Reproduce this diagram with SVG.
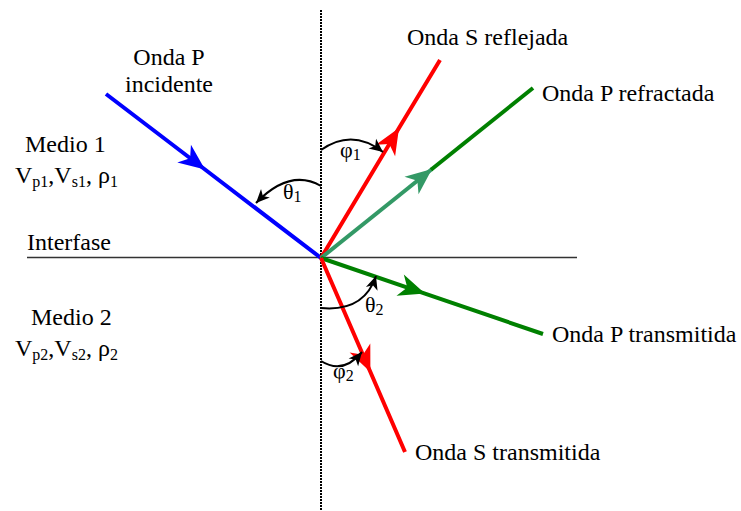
<svg xmlns="http://www.w3.org/2000/svg" width="741" height="511" viewBox="0 0 741 511">
<style>
.t{font-family:'Liberation Serif','Times New Roman',Times,serif;font-size:24px;fill:#000}
.sub{font-size:16px}
.ray{fill:none;stroke-width:4;stroke-linecap:butt}
.arc{fill:none;stroke:#000;stroke-width:2}
</style>
<defs>
<marker id="ahBlue" markerUnits="userSpaceOnUse" markerWidth="30" markerHeight="30" viewBox="-22 -10 24 20" refX="0" refY="0" orient="auto"><path d="M0,0 L-21,-9 L-15,0 L-21,9 Z" fill="#0000ff"/></marker>
<marker id="ahRed" markerUnits="userSpaceOnUse" markerWidth="30" markerHeight="30" viewBox="-22 -10 24 20" refX="0" refY="0" orient="auto"><path d="M0,0 L-21,-9 L-15,0 L-21,9 Z" fill="#ff0000"/></marker>
<marker id="ahGreen" markerUnits="userSpaceOnUse" markerWidth="30" markerHeight="30" viewBox="-22 -10 24 20" refX="0" refY="0" orient="auto"><path d="M0,0 L-21,-9 L-15,0 L-21,9 Z" fill="#008000"/></marker>
<marker id="ahSea" markerUnits="userSpaceOnUse" markerWidth="30" markerHeight="30" viewBox="-22 -10 24 20" refX="0" refY="0" orient="auto"><path d="M0,0 L-21,-9 L-15,0 L-21,9 Z" fill="#339966"/></marker>
<marker id="ahBlack" markerUnits="userSpaceOnUse" markerWidth="16" markerHeight="16" viewBox="-12 -6 13 12" refX="0" refY="0" orient="auto"><path d="M0,0 L-11,-5 L-8,0 L-11,5 Z" fill="#000"/></marker>
</defs>

<g id="axes">
<line x1="27" y1="257.5" x2="577" y2="257.5" stroke="#333" stroke-width="1.5"/>
<line x1="321" y1="10" x2="321" y2="511" stroke="#000" stroke-width="2" stroke-dasharray="2,1"/>
</g>

<g id="connectors">
<path id="incident" class="ray" stroke="#0000ff" d="M106,94 L205,169.5 L321,258" marker-mid="url(#ahBlue)"/>
<path id="reflS" class="ray" stroke="#ff0000" d="M321,258 L399,128 L440,60" marker-mid="url(#ahRed)"/>
<path id="refrP1" class="ray" stroke="#339966" d="M321,258 L432,169" marker-end="url(#ahSea)"/>
<path id="refrP2" class="ray" stroke="#008000" d="M431,169.8 L533,88"/>
<path id="transP" class="ray" stroke="#008000" d="M321,258 L425,293.6 L543,334" marker-mid="url(#ahGreen)"/>
<path id="transS" class="ray" stroke="#ff0000" d="M321,258 L370.4,372 L405,452" marker-mid="url(#ahRed)"/>
<path id="arcTheta1" class="arc" d="M321,186 Q290,168 256,203" marker-end="url(#ahBlack)"/>
<path id="arcPhi1" class="arc" d="M321,150 Q352,128 383,152" marker-end="url(#ahBlack)"/>
<path id="arcTheta2" class="arc" d="M321,308 Q364,312 376,276" marker-end="url(#ahBlack)"/>
<path id="arcPhi2" class="arc" d="M321,361 Q343,375 362,352" marker-end="url(#ahBlack)"/>
</g>

<g font-family="Liberation Serif, Times New Roman, serif" font-size="24">
<g id="label-incidente"><text class="t" x="169" y="65" text-anchor="middle">Onda P</text><text class="t" x="169" y="92" text-anchor="middle">incidente</text></g>
<g id="label-medio1"><text class="t" x="25" y="152">Medio 1</text><text class="t" x="15" y="183">V<tspan class="sub" dy="4">p1</tspan><tspan dy="-4">,V</tspan><tspan class="sub" dy="4">s1</tspan><tspan dy="-4">, ρ</tspan><tspan class="sub" dy="4">1</tspan></text></g>
<g id="label-interfase"><text class="t" x="27" y="250">Interfase</text></g>
<g id="label-medio2"><text class="t" x="31" y="325">Medio 2</text><text class="t" x="15" y="356">V<tspan class="sub" dy="4">p2</tspan><tspan dy="-4">,V</tspan><tspan class="sub" dy="4">s2</tspan><tspan dy="-4">, ρ</tspan><tspan class="sub" dy="4">2</tspan></text></g>
<g id="label-reflS"><text class="t" x="407" y="45">Onda S reflejada</text></g>
<g id="label-refrP"><text class="t" x="542" y="101">Onda P refractada</text></g>
<g id="label-transP"><text class="t" x="552" y="342">Onda P transmitida</text></g>
<g id="label-transS"><text class="t" x="415" y="460">Onda S transmitida</text></g>
<g id="label-theta1"><text class="t" x="283" y="199" style="font-size:22px">θ<tspan class="sub" dy="3">1</tspan></text></g>
<g id="label-phi1"><text class="t" x="340" y="157" style="font-size:22px">φ<tspan class="sub" dy="3">1</tspan></text></g>
<g id="label-theta2"><text class="t" x="365" y="312" style="font-size:22px">θ<tspan class="sub" dy="3">2</tspan></text></g>
<g id="label-phi2"><text class="t" x="333" y="378" style="font-size:22px">φ<tspan class="sub" dy="3">2</tspan></text></g>
</g>
</svg>
